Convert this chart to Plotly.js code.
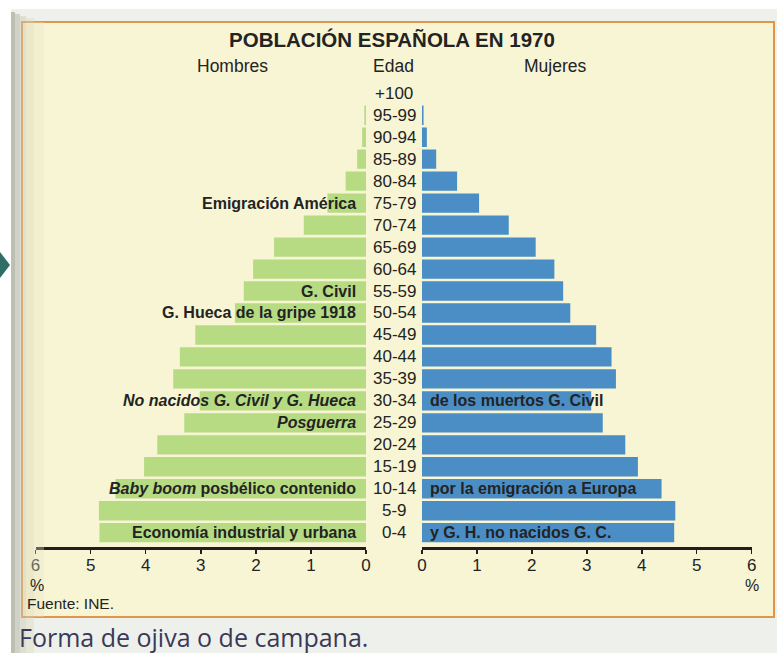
<!DOCTYPE html>
<html>
<head>
<meta charset="utf-8">
<script src="https://cdn.plot.ly/plotly-3.0.1.min.js"></script>
<style>html,body{margin:0;padding:0;background:#fff;}#chart{width:777px;height:653px;}</style>
</head>
<body>
<div id="chart"></div>
<script>
// ---- data (bottom row first) ----
const ages = ["0-4","5-9","10-14","15-19","20-24","25-29","30-34","35-39","40-44","45-49","50-54","55-59","60-64","65-69","70-74","75-79","80-84","85-89","90-94","95-99","+100"];
const hombres = [4.84,4.85,4.55,4.03,3.79,3.30,3.02,3.50,3.38,3.10,2.38,2.22,2.05,1.67,1.13,0.70,0.37,0.16,0.07,0.03,0];
const mujeres = [4.59,4.61,4.36,3.93,3.70,3.29,3.08,3.53,3.45,3.17,2.70,2.57,2.41,2.07,1.58,1.04,0.64,0.26,0.09,0.03,0];
const tickVals = [0,1,2,3,4,5,6];
const tickText = ["0","1","2","3","4","5","6"];
// notes beside the bars
const notesLeftText = ["Emigración América","G. Civil","G. Hueca de la gripe 1918","<i>No nacidos G. Civil y G. Hueca</i>","<i>Posguerra</i>","<i>Baby boom</i> posbélico contenido","Economía industrial y urbana"];
const notesLeftAge  = ["75-79","55-59","50-54","30-34","25-29","10-14","0-4"];
const notesRightText = ["de los muertos G. Civil","por la emigración a Europa","y G. H. no nacidos G. C."];
const notesRightAge  = ["30-34","10-14","0-4"];

const W = 777, H = 653;
const px = x => x / W;
const py = y => 1 - y / H;
const FONT = "Liberation Sans, Arial, Helvetica, sans-serif";
const TXT = "#232323";
const rowOf = a => ages.indexOf(a);

const traces = [
  {type:"bar", orientation:"h", name:"Hombres", x:hombres, y:ages, xaxis:"x", yaxis:"y",
   marker:{color:"#b6db82", line:{width:0}}, hoverinfo:"x+y"},
  {type:"bar", orientation:"h", name:"Mujeres", x:mujeres, y:ages, xaxis:"x2", yaxis:"y",
   marker:{color:"#4a8ec5", line:{width:0}}, hoverinfo:"x+y"}
];

const annotations = [];
// age labels in the centre column
ages.forEach((a,i) => annotations.push({xref:"paper", yref:"y", x:px(394), y:i, text:a, showarrow:false,
  xanchor:"center", yanchor:"middle", font:{family:FONT, size:17, color:TXT}}));
// header row
[["Hombres",232],["Edad",393],["Mujeres",555]].forEach(h => annotations.push({xref:"paper", yref:"paper",
  x:px(h[1]), y:py(66), text:h[0], showarrow:false, xanchor:"center", yanchor:"middle",
  font:{family:FONT, size:17.5, color:TXT}}));
// notes
notesLeftText.forEach((t,i) => annotations.push({xref:"paper", yref:"y", x:px(358), y:rowOf(notesLeftAge[i]),
  text:"<b>"+t+"</b>", showarrow:false, xanchor:"right", yanchor:"middle", font:{family:FONT, size:16, color:TXT}}));
notesRightText.forEach((t,i) => annotations.push({xref:"paper", yref:"y", x:px(428), y:rowOf(notesRightAge[i]),
  text:"<b>"+t+"</b>", showarrow:false, xanchor:"left", yanchor:"middle", font:{family:FONT, size:16, color:TXT}}));
// % signs, source, caption
annotations.push({xref:"paper", yref:"paper", x:px(37), y:py(585), text:"%", showarrow:false, xanchor:"center", yanchor:"middle", font:{family:FONT, size:16, color:TXT}});
annotations.push({xref:"paper", yref:"paper", x:px(752), y:py(585), text:"%", showarrow:false, xanchor:"center", yanchor:"middle", font:{family:FONT, size:16, color:TXT}});
annotations.push({xref:"paper", yref:"paper", x:px(25), y:py(603), text:"Fuente: INE.", showarrow:false, xanchor:"left", yanchor:"middle", font:{family:FONT, size:15.5, color:TXT}});
annotations.push({xref:"paper", yref:"paper", x:px(17), y:py(637), text:"Forma de ojiva o de campana.", showarrow:false, xanchor:"left", yanchor:"middle", font:{family:"Open Sans, Lato, sans-serif", size:25, color:"#3b3957"}});

const arrowPath = "M 0 " + (1-252/H) + " L " + px(10) + " " + (1-265/H) + " L 0 " + (1-278/H) + " Z";
const shapes = [
  // page
  {type:"rect", xref:"paper", yref:"paper", x0:px(11), x1:px(777), y0:py(653), y1:py(9), fillcolor:"#eef0ec", line:{width:0}, layer:"below"},
  // panel
  {type:"rect", xref:"paper", yref:"paper", x0:px(22), x1:px(774), y0:py(617), y1:py(22), fillcolor:"#f7f5d3", line:{color:"#e2954a", width:2}, layer:"below"},
  // arrow
  {type:"path", xref:"paper", yref:"paper", path:arrowPath, fillcolor:"#2f6d66", line:{width:0}, layer:"above"},
  // left shadow of the page
  {type:"rect", xref:"paper", yref:"paper", x0:px(11), x1:px(15), y0:py(653), y1:py(12), fillcolor:"#a7a999", opacity:0.7, line:{width:0}, layer:"above"},
  {type:"rect", xref:"paper", yref:"paper", x0:px(15), x1:px(20), y0:py(653), y1:py(14), fillcolor:"#b9baa9", opacity:0.55, line:{width:0}, layer:"above"},
  {type:"rect", xref:"paper", yref:"paper", x0:px(20), x1:px(26), y0:py(653), y1:py(16), fillcolor:"#c9c7b1", opacity:0.45, line:{width:0}, layer:"above"},
  {type:"rect", xref:"paper", yref:"paper", x0:px(26), x1:px(34), y0:py(653), y1:py(18), fillcolor:"#d9d7bf", opacity:0.4, line:{width:0}, layer:"above"},
  {type:"rect", xref:"paper", yref:"paper", x0:px(34), x1:px(44), y0:py(617), y1:py(22), fillcolor:"#e6e4c8", opacity:0.35, line:{width:0}, layer:"above"}
];

const xaxisCommon = {showgrid:false, zeroline:false, showline:true, linecolor:"#1f1f1f", linewidth:3,
  ticks:"outside", ticklen:4, tickwidth:1.5, tickcolor:"#1f1f1f", tickvals:tickVals, ticktext:tickText,
  tickfont:{family:FONT, size:17, color:TXT}, ticklabelstandoff:-4, anchor:"y", fixedrange:true};

const layout = {
  width:W, height:H, margin:{l:0, r:0, t:0, b:0},
  paper_bgcolor:"#ffffff", plot_bgcolor:"rgba(0,0,0,0)",
  showlegend:false, barmode:"overlay", bargap:0.12,
  title:{text:"<b>POBLACIÓN ESPAÑOLA EN 1970</b>", x:px(392), xanchor:"center", y:py(40), yanchor:"middle",
    font:{family:FONT, size:20.5, color:TXT}},
  xaxis:Object.assign({}, xaxisCommon, {domain:[px(35.6), px(366)], range:[6,0]}),
  xaxis2:Object.assign({}, xaxisCommon, {domain:[px(421.9), px(751.7)], range:[0,6]}),
  yaxis:{domain:[py(547.2), py(82.3)], range:[-0.66, 20.5], type:"category", categoryorder:"array",
    categoryarray:ages, showticklabels:false, showgrid:false, zeroline:false, showline:false, ticks:"", fixedrange:true},
  annotations:annotations, shapes:shapes
};

Plotly.newPlot("chart", traces, layout, {displayModeBar:false, staticPlot:true});
</script>
</body>
</html>
